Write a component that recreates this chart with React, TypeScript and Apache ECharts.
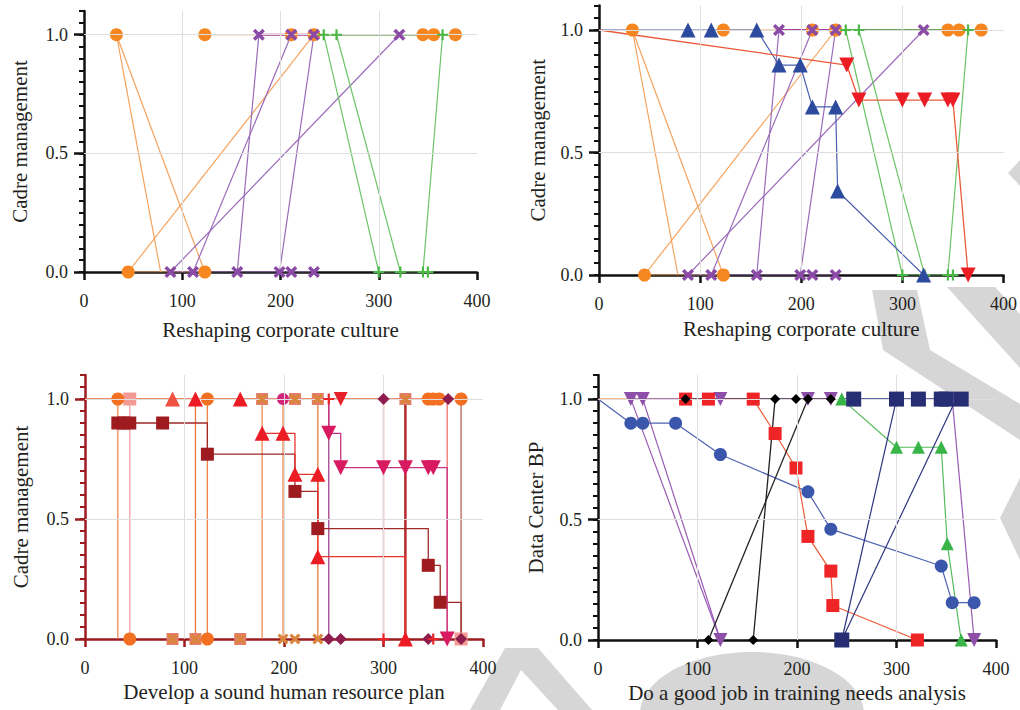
import React, { useEffect, useRef } from "react";
import * as echarts from "echarts";

const FONT = '"Liberation Serif", "Times New Roman", serif';

// ---- axis ticks / labels ----
const xTickValues = [0, 100, 200, 300, 400];
const yLabelValues = [0, 0.5, 1.0];
const yMinorValues = [0, 0.05, 0.1, 0.15, 0.2, 0.25, 0.3, 0.35, 0.4, 0.45, 0.5, 0.55, 0.6, 0.65, 0.7, 0.75, 0.8, 0.85, 0.9, 0.95, 1.0, 1.05, 1.1];
const gridXValues = [100, 200, 300];
const gridYValues = [0.5, 1.0];

// ---- panel titles ----
const xNames = ["Reshaping corporate culture", "Reshaping corporate culture", "Develop a sound human resource plan", "Do a good job in training needs analysis"];
const yNames = ["Cadre management", "Cadre management", "Cadre management", "Data Center BP"];

// ---- panels 1 & 2 (shared groups) ----
const orangeMarks = [[33, 1], [123, 1], [211, 1], [234, 1], [345, 1], [356, 1], [378, 1], [45, 0], [123, 0]];
const orangeLinks = [
  [[123, 1], [378, 1]],
  [[33, 1], [78, 0]],
  [[33, 1], [123, 0]],
  [[45, 0], [234, 1]],
  [[45, 0], [123, 0]],
];
const purpleMarks = [[178, 1], [211, 1], [234, 1], [321, 1], [88, 0], [111, 0], [156, 0], [199, 0], [211, 0], [234, 0]];
const purpleLinks = [
  [[178, 1], [234, 1]],
  [[88, 0], [234, 0]],
  [[156, 0], [178, 1]],
  [[111, 0], [211, 1]],
  [[199, 0], [234, 1]],
  [[88, 0], [321, 1]],
];
const greenMarks = [[244, 1], [257, 1], [365, 1], [300, 0], [322, 0], [345, 0], [350, 0]];
const greenLinks = [
  [[234, 1], [378, 1]],
  [[300, 0], [350, 0]],
  [[244, 1], [300, 0]],
  [[257, 1], [322, 0]],
  [[345, 0], [365, 1]],
];
// panel 2 extra
const blueTriPath = [[0, 1], [88, 1], [111, 1], [156, 1], [178, 0.857], [199, 0.857], [211, 0.686], [234, 0.686], [236, 0.343], [321, 0]];
const redTriPath = [[0, 1], [245, 0.857], [257, 0.714], [300, 0.714], [322, 0.714], [345, 0.714], [350, 0.714], [365, 0]];

// ---- panel 3 ----
const p3Verticals = [33, 45, 111, 123, 178, 199, 234, 245, 300, 322, 364, 378];
const p3VerticalColors = ["#ef8a55", "#f2a3a0", "#ea7440", "#ef8344", "#ef8a55", "#ef8a55", "#ec7a40", "#a2418b", "#e8453c", "#b42a2c", "#ee6f6f", "#b8624f"];
const p3TopLine = [[0, 1], [378, 1]];
const p3OrangeCircles = [[33, 1], [123, 1], [345, 1], [350, 1], [356, 1], [378, 1], [45, 0], [123, 0]];
const p3PinkSquares = [[45, 1], [378, 0]];
const p3CrossSquares = [[178, 1], [211, 1], [234, 1], [322, 1], [88, 0], [111, 0], [156, 0]];
const p3OrangeCross = [[199, 0], [211, 0], [234, 0]];
const p3MagentaCircles = [[199, 1]];
const p3RedTriTop = [[88, 1], [111, 1], [156, 1]];
const p3RedTriSteps = [[178, 0.857], [199, 0.857], [211, 0.686], [234, 0.686], [234, 0.343], [322, 0]];
const p3DarkSquares = [[33, 0.9], [39, 0.9], [45, 0.9], [78, 0.9], [123, 0.77], [211, 0.615], [234, 0.46], [345, 0.307], [357, 0.153]];
const p3DarkSquareEnd = [378, 0];
const p3MagentaTri = [[245, 0.857], [257, 0.714], [300, 0.714], [322, 0.714], [345, 0.714], [350, 0.714], [364, 0]];
const p3RedDownTop = [[257, 1]];
const p3Diamonds = [[300, 1], [365, 1], [245, 0], [257, 0], [345, 0], [378, 0]];
const p3Plus = [[245, 1], [300, 0], [350, 0]];

// ---- panel 4 ----
const p4OrangeLine = [[0, 1], [88, 1]];
const p4PurpleMarks = [[33, 1], [45, 1], [123, 1], [211, 1], [234, 1], [123, 0], [378, 0]];
const p4PurpleLinks = [
  [[33, 1], [234, 1]],
  [[33, 1], [123, 0]],
  [[45, 1], [123, 0]],
  [[356, 1], [378, 0]],
];
const p4BluePath = [[0, 1], [33, 0.9], [45, 0.9], [78, 0.9], [123, 0.77], [211, 0.615], [234, 0.46], [345, 0.307], [356, 0.155], [378, 0.155]];
const p4RedPath = [[88, 1], [111, 1], [156, 1], [178, 0.857], [199, 0.714], [211, 0.43], [234, 0.286], [236, 0.143], [321, 0]];
const p4BlackMarks = [[88, 1], [178, 1], [199, 1], [211, 1], [234, 1], [111, 0], [156, 0]];
const p4BlackLinks = [
  [[88, 1], [234, 1]],
  [[111, 0], [211, 1]],
  [[156, 0], [178, 1]],
];
const p4GreenPath = [[245, 1], [300, 0.8], [322, 0.8], [345, 0.8], [351, 0.4], [365, 0]];
const p4NavyMarks = [[257, 1], [300, 1], [322, 1], [345, 1], [350, 1], [365, 1], [245, 0]];
const p4NavyLinks = [
  [[245, 1], [365, 1]],
  [[245, 0], [300, 1]],
  [[245, 0], [360, 1]],
];

// ---- layout ----
const grids = [
  { left: 84, top: 11, width: 393, height: 261 },
  { left: 599, top: 5.5, width: 405, height: 269.5 },
  { left: 85, top: 375, width: 398, height: 264 },
  { left: 598, top: 375, width: 398, height: 265 },
];
const axisColors = ["#111", "#111", "#9b1b1e", "#111"];
const xNameGaps = [47, 43, 42, 42];
const yNameGaps = [54, 51, 54, 52];

// light grey watermark shapes behind the chart
const watermarkPolys = [
  [[872, 290], [917, 290], [930, 350], [1020, 404], [1020, 440], [883, 350]],
  [[947, 287], [995, 287], [1020, 314], [1020, 368]],
  [[1008, 173], [1020, 160], [1020, 186]],
  [[1000, 518], [1020, 478], [1020, 560]],
  [[470, 710], [505, 648], [538, 648], [592, 710], [558, 710], [521, 670], [500, 710]],
];
const watermarkEllipse = { cx: 752, cy: 714, rx: 112, ry: 62 };

const X_SYM = "path://M0,2 L2,0 L5,3 L8,0 L10,2 L7,5 L10,8 L8,10 L5,7 L2,10 L0,8 L3,5 Z";
const PLUS_SYM = "path://M4,0 L6,0 L6,4 L10,4 L10,6 L6,6 L6,10 L4,10 L4,6 L0,6 L0,4 L4,4 Z";

export default function App() {
  const ref = useRef<HTMLDivElement>(null);
  useEffect(() => {
    if (!ref.current) return;
    const chart = echarts.init(ref.current, undefined, { renderer: "svg" });
    const series: any[] = [];
    const addLine = (g: number, pts: number[][], color: string, width = 1.2, step: any = false, z = 2) => {
      series.push({
        type: "line", xAxisIndex: g, yAxisIndex: g * 2, data: pts, symbol: "none", showSymbol: false,
        step, lineStyle: { color, width }, silent: true, z, emphasis: { disabled: true },
      });
    };
    const addMarks = (g: number, pts: number[][], symbol: string, size: number, color: string, rotate = 0, z = 4) => {
      series.push({
        type: "scatter", xAxisIndex: g, yAxisIndex: g * 2, data: pts, symbol, symbolSize: size,
        symbolRotate: rotate, itemStyle: { color, opacity: 1 }, silent: true, z, emphasis: { disabled: true },
      });
    };

    // grid lines
    for (let g = 0; g < 4; g++) {
      series.push({
        type: "line", xAxisIndex: g, yAxisIndex: g * 2, data: [], z: 1, silent: true,
        markLine: {
          silent: true, symbol: "none", label: { show: false }, animation: false,
          lineStyle: { color: "#dedede", width: 1, type: "solid" },
          emphasis: { disabled: true },
          data: [...gridXValues.map((v) => ({ xAxis: v })), ...gridYValues.map((v) => ({ yAxis: v }))],
        },
      });
    }

    // panels 1 and 2
    for (const g of [0, 1]) {
      orangeLinks.forEach((l) => addLine(g, l, "#f5a35e", 1.2));
      purpleLinks.forEach((l, i) => addLine(g, l, i === 0 ? "#a8409e" : "#9a6bb9", i === 0 ? 2 : 1.2));
      greenLinks.forEach((l, i) => addLine(g, l, i === 0 ? "#3c9a3a" : "#6cc466", i === 0 ? 1.6 : 1.2));
      if (g === 1) {
        addLine(g, blueTriPath, "#4a5fae", 1.2);
        addLine(g, redTriPath, "#ea5a3a", 1.3);
      }
      addMarks(g, orangeMarks, "circle", 13, "#f6861f");
      addMarks(g, purpleMarks, X_SYM, 12, "#8a4aa6", 0, 5);
      addMarks(g, greenMarks, PLUS_SYM, 11, "#4cb848", 0, 5);
      if (g === 1) {
        addMarks(g, blueTriPath.slice(1), "triangle", 15, "#2c4a9e", 0, 6);
        addMarks(g, redTriPath.slice(1), "triangle", 15, "#ec1c24", 180, 6);
      }
    }

    // panel 3
    p3Verticals.forEach((x, i) => addLine(2, [[x, 1], [x, 0]], p3VerticalColors[i], x === 322 ? 2.5 : 1.3));
    addLine(2, p3TopLine, "#e8663c", 1.5);
    addLine(2, p3DarkSquares.concat([p3DarkSquareEnd]), "#9e2a2a", 1.3, "end");
    addLine(2, p3RedTriSteps, "#e8352c", 1.3, "end");
    addLine(2, [[245, 1]].concat(p3MagentaTri), "#c8337f", 1.3, "end");
    addMarks(2, p3PinkSquares, "rect", 13, "#f39a95");
    addMarks(2, p3CrossSquares, "rect", 12, "#e57d6d");
    addMarks(2, p3CrossSquares, X_SYM, 11, "#d9863c", 0, 5);
    addMarks(2, p3OrangeCross, X_SYM, 11, "#d9863c", 0, 5);
    addMarks(2, p3OrangeCircles, "circle", 13, "#f36f21");
    addMarks(2, p3MagentaCircles, "circle", 12, "#d0277a");
    addMarks(2, p3RedTriTop.slice(0, 1), "triangle", 15, "#f05141", 0, 5);
    addMarks(2, p3RedTriTop.slice(1), "triangle", 15, "#ec1c24", 0, 5);
    addMarks(2, p3RedTriSteps, "triangle", 15, "#ec1c24", 0, 5);
    addMarks(2, p3DarkSquares, "rect", 13, "#9e1b20", 0, 5);
    addMarks(2, p3MagentaTri, "triangle", 15, "#d81b60", 180, 5);
    addMarks(2, p3RedDownTop, "triangle", 14, "#e5202a", 180, 5);
    addMarks(2, p3Diamonds, "diamond", 12, "#8e1d4d", 0, 6);
    addMarks(2, p3Plus, PLUS_SYM, 11, "#e8252b", 0, 6);

    // panel 4
    addLine(3, p4OrangeLine, "#ef7b2b", 1.3);
    p4PurpleLinks.forEach((l, i) => addLine(3, l, "#9a5bb5", i === 0 ? 1.6 : 1.2));
    addLine(3, p4BluePath, "#4e63b0", 1.2);
    addLine(3, p4RedPath, "#ef5a36", 1.2);
    p4BlackLinks.forEach((l) => addLine(3, l, "#222", 1.3));
    addLine(3, p4GreenPath, "#55bb5a", 1.2);
    p4NavyLinks.forEach((l, i) => addLine(3, l, "#2d3580", i === 0 ? 1.5 : 1.2));
    addMarks(3, p4PurpleMarks, "triangle", 14, "#8e4fa8", 180);
    addMarks(3, p4BluePath.slice(1), "circle", 13, "#3b57ab");
    addMarks(3, p4RedPath, "rect", 13, "#ee2426");
    addMarks(3, p4BlackMarks, "diamond", 10, "#000", 0, 5);
    addMarks(3, p4GreenPath, "triangle", 13, "#38b449", 0, 5);
    addMarks(3, p4NavyMarks, "rect", 15, "#262d73", 0, 5);

    const xAxis = grids.map((_, g) => ({
      type: "value", gridIndex: g, min: 0, max: 400, interval: 100,
      name: xNames[g], nameLocation: "middle", nameGap: xNameGaps[g],
      nameTextStyle: { fontFamily: FONT, fontSize: 21, color: "#231f20" },
      axisLine: { show: true, onZero: false, lineStyle: { color: axisColors[g], width: 2.5 } },
      axisTick: { show: true, length: 8, customValues: xTickValues, lineStyle: { color: axisColors[g], width: 2.5 } },
      axisLabel: { fontFamily: FONT, fontSize: 18, color: "#231f20", margin: 20, customValues: xTickValues },
      splitLine: { show: false },
    }));
    const yAxis: any[] = [];
    grids.forEach((_, g) => {
      yAxis.push({
        type: "value", gridIndex: g, min: 0, max: 1.1, position: "left",
        name: yNames[g], nameLocation: "middle", nameGap: yNameGaps[g], nameRotate: 90,
        nameTextStyle: { fontFamily: FONT, fontSize: 21, color: "#231f20" },
        axisLine: { show: true, onZero: false, lineStyle: { color: axisColors[g], width: 2.5 } },
        axisTick: { show: true, length: 5, customValues: yMinorValues, lineStyle: { color: axisColors[g], width: 2 } },
        axisLabel: {
          fontFamily: FONT, fontSize: 18, color: "#231f20", margin: 16, customValues: yLabelValues,
          formatter: (v: number) => v.toFixed(1),
        },
        splitLine: { show: false },
      });
      yAxis.push({
        type: "value", gridIndex: g, min: 0, max: 1.1, position: "left",
        axisLine: { show: false, onZero: false },
        axisTick: { show: true, length: 10, customValues: yLabelValues, lineStyle: { color: axisColors[g], width: 2.5 } },
        axisLabel: { show: false },
        splitLine: { show: false },
      });
    });

    const graphic: any[] = watermarkPolys.map((pts) => ({
      type: "polygon", z: -10, silent: true,
      shape: { points: pts },
      style: { fill: "#d6d6d6" },
    }));
    graphic.unshift({
      type: "ellipse", z: -10, silent: true,
      shape: { ...watermarkEllipse },
      style: { fill: "#d6d6d6" },
    });

    chart.setOption({
      animation: false,
      backgroundColor: "#ffffff",
      graphic,
      grid: grids.map((r) => ({ ...r, containLabel: false })),
      xAxis,
      yAxis,
      series,
    });
    return () => chart.dispose();
  }, []);
  return <div ref={ref} style={{ position: "fixed", left: 0, top: 0, width: 1020, height: 710 }} />;
}
